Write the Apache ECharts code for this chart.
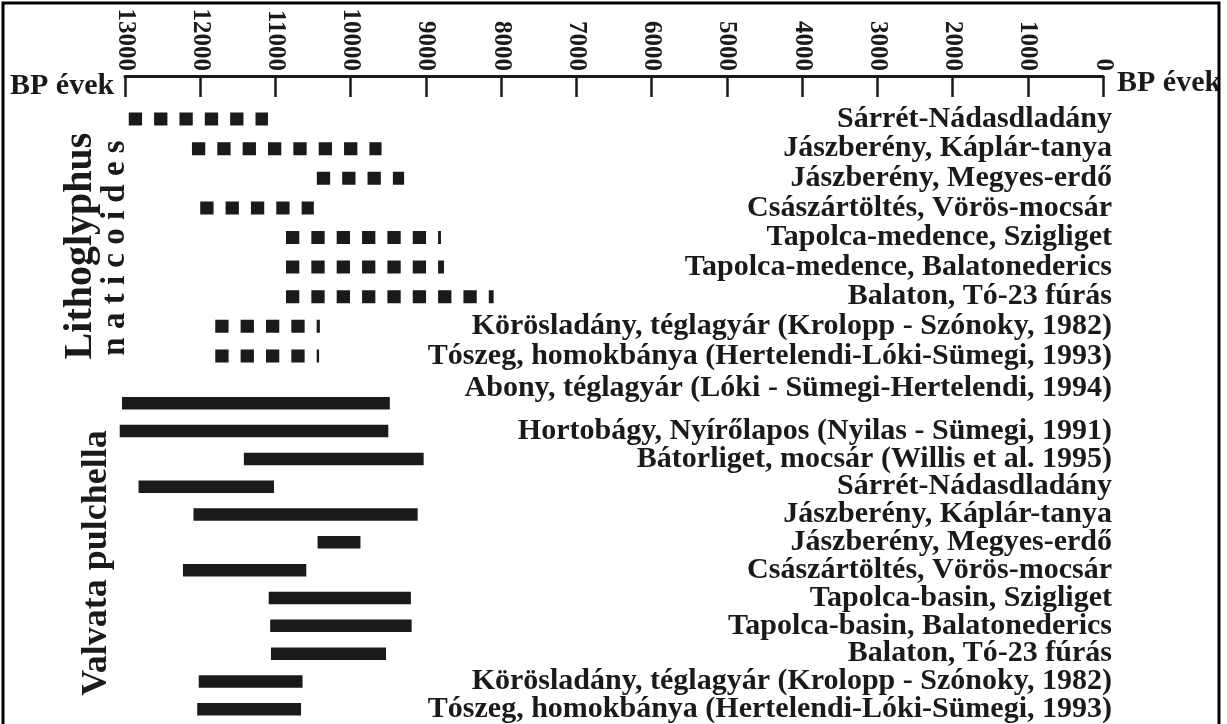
<!DOCTYPE html>
<html>
<head>
<meta charset="utf-8">
<script src="https://cdn.jsdelivr.net/npm/echarts@6/dist/echarts.min.js"></script>
<style>
  html, body { margin: 0; padding: 0; background: #fff; }
  #chart { width: 1227px; height: 724px; }
</style>
</head>
<body>
<div id="chart"></div>
<script>
// BP évek tengely
var yearTicks = [13000, 12000, 11000, 10000, 9000, 8000, 7000, 6000, 5000, 4000, 3000, 2000, 1000, 0];

// Lithoglyphus naticoides (szaggatott)
var lithoSites = [
  'Sárrét-Nádasdladány',
  'Jászberény, Káplár-tanya',
  'Jászberény, Megyes-erdő',
  'Császártöltés, Vörös-mocsár',
  'Tapolca-medence, Szigliget',
  'Tapolca-medence, Balatonederics',
  'Balaton, Tó-23 fúrás',
  'Körösladány, téglagyár (Krolopp - Szónoky, 1982)',
  'Tószeg, homokbánya (Hertelendi-Lóki-Sümegi, 1993)'
];
var lithoFrom = [12950, 12110, 10450, 12000, 10860, 10860, 10860, 11800, 11800];
var lithoTo = [11100, 9590, 9290, 10490, 8800, 8760, 8100, 10410, 10420];

// Valvata pulchella (folytonos)
var valvataSites = [
  'Abony, téglagyár (Lóki - Sümegi-Hertelendi, 1994)',
  'Hortobágy, Nyírőlapos (Nyilas - Sümegi, 1991)',
  'Bátorliget, mocsár (Willis et al. 1995)',
  'Sárrét-Nádasdladány',
  'Jászberény, Káplár-tanya',
  'Jászberény, Megyes-erdő',
  'Császártöltés, Vörös-mocsár',
  'Tapolca-basin, Szigliget',
  'Tapolca-basin, Balatonederics',
  'Balaton, Tó-23 fúrás',
  'Körösladány, téglagyár (Krolopp - Szónoky, 1982)',
  'Tószeg, homokbánya (Hertelendi-Lóki-Sümegi, 1993)'
];
var valvataFrom = [13040, 13070, 11420, 12820, 12090, 10440, 12230, 11090, 11070, 11060, 12020, 12040];
var valvataTo = [9480, 9500, 9030, 11020, 9110, 9870, 10590, 9200, 9190, 9530, 10640, 10660];

var ink = '#1a1a1a';
var serif = '"Liberation Serif", "Times New Roman", serif';

var chart = echarts.init(document.getElementById('chart'), null, { renderer: 'canvas' });

function rows(from, to) {
  return from.map(function (v, i) { return [v, to[i], i]; });
}

function xHidden(idx) {
  return {
    gridIndex: idx, type: 'value', min: 0, max: 13000, inverse: true, show: false
  };
}

function siteAxis(idx, names, formatter) {
  return {
    gridIndex: idx,
    type: 'category',
    data: names,
    inverse: true,
    position: 'right',
    axisLine: { show: false },
    axisTick: { show: false },
    splitLine: { show: false },
    axisLabel: {
      inside: true,
      interval: 0,
      margin: -9,
      color: ink,
      fontFamily: serif,
      fontWeight: 'bold',
      fontSize: 30,
      formatter: formatter
    }
  };
}

var option = {
  backgroundColor: '#fff',
  animation: false,
  grid: [
    { left: 125, right: 124, top: 76, height: 1 },
    { left: 125, right: 124, top: 104.2, height: 266.6 },
    { left: 125, right: 124, top: 389.3, height: 342.7 }
  ],
  xAxis: [
    {
      gridIndex: 0,
      type: 'value',
      position: 'top',
      min: 0,
      max: 13000,
      interval: 1000,
      inverse: true,
      axisLine: { show: true, lineStyle: { color: ink, width: 3 } },
      axisTick: { show: true, inside: true, length: 21, lineStyle: { color: ink, width: 2.5 } },
      splitLine: { show: false },
      axisLabel: {
        rotate: 90,
        margin: 5,
        color: ink,
        fontFamily: serif,
        fontWeight: 'bold',
        fontSize: 25,
        formatter: function (v) { return yearTicks.indexOf(v) >= 0 ? String(v) : ''; }
      }
    },
    xHidden(1),
    xHidden(2)
  ],
  yAxis: [
    { gridIndex: 0, type: 'category', data: [''], show: false },
    siteAxis(1, lithoSites),
    // az Abony felirat kicsit a sáv fölött áll
    siteAxis(2, valvataSites, function (v, i) { return i === 0 ? v + '\n ' : v; })
  ],
  series: [
    {
      type: 'custom',
      xAxisIndex: 1,
      yAxisIndex: 1,
      data: rows(lithoFrom, lithoTo),
      encode: { x: [0, 1], y: 2 },
      renderItem: function (params, api) {
        var a = api.coord([api.value(0), api.value(2)]);
        var b = api.coord([api.value(1), api.value(2)]);
        return {
          type: 'line',
          shape: { x1: a[0], y1: a[1], x2: b[0], y2: b[1] },
          style: { stroke: ink, lineWidth: 13, lineDash: [13.3, 12.05], lineCap: 'butt' }
        };
      }
    },
    {
      type: 'custom',
      xAxisIndex: 2,
      yAxisIndex: 2,
      data: rows(valvataFrom, valvataTo),
      encode: { x: [0, 1], y: 2 },
      renderItem: function (params, api) {
        var a = api.coord([api.value(0), api.value(2)]);
        var b = api.coord([api.value(1), api.value(2)]);
        return {
          type: 'rect',
          shape: { x: a[0], y: a[1] - 6.25, width: b[0] - a[0], height: 12.5 },
          style: { fill: ink }
        };
      }
    }
  ],
  graphic: [
    {
      type: 'text', x: 10, y: 86, z: 10,
      style: { text: 'BP évek', fill: ink, font: 'bold 30px ' + serif, textVerticalAlign: 'middle' }
    },
    {
      type: 'text', x: 1117, y: 83, z: 10,
      style: { text: 'BP évek', fill: ink, font: 'bold 30px ' + serif, textVerticalAlign: 'middle' }
    },
    {
      type: 'text', x: 81, y: 246, rotation: Math.PI / 2, z: 10,
      style: { text: 'Lithoglyphus', fill: ink, font: 'bold 40px ' + serif, textAlign: 'center', textVerticalAlign: 'middle' }
    },
    {
      type: 'text', x: 115, y: 248, rotation: Math.PI / 2, z: 10,
      style: { text: 'n a t i c o i d e s', fill: ink, font: 'bold 33px ' + serif, textAlign: 'center', textVerticalAlign: 'middle' }
    },
    {
      type: 'text', x: 97, y: 563, rotation: Math.PI / 2, z: 10,
      style: { text: 'Valvata pulchella', fill: ink, font: 'bold 36px ' + serif, textAlign: 'center', textVerticalAlign: 'middle' }
    },
    {
      type: 'rect', z: 20,
      shape: { x: 1220, y: 0, width: 10, height: 724 },
      style: { fill: '#fff' }
    },
    {
      type: 'rect', z: 30,
      shape: { x: 3, y: 3, width: 1216, height: 740 },
      style: { fill: 'none', stroke: '#000', lineWidth: 3 }
    }
  ]
};

chart.setOption(option);
</script>
</body>
</html>
